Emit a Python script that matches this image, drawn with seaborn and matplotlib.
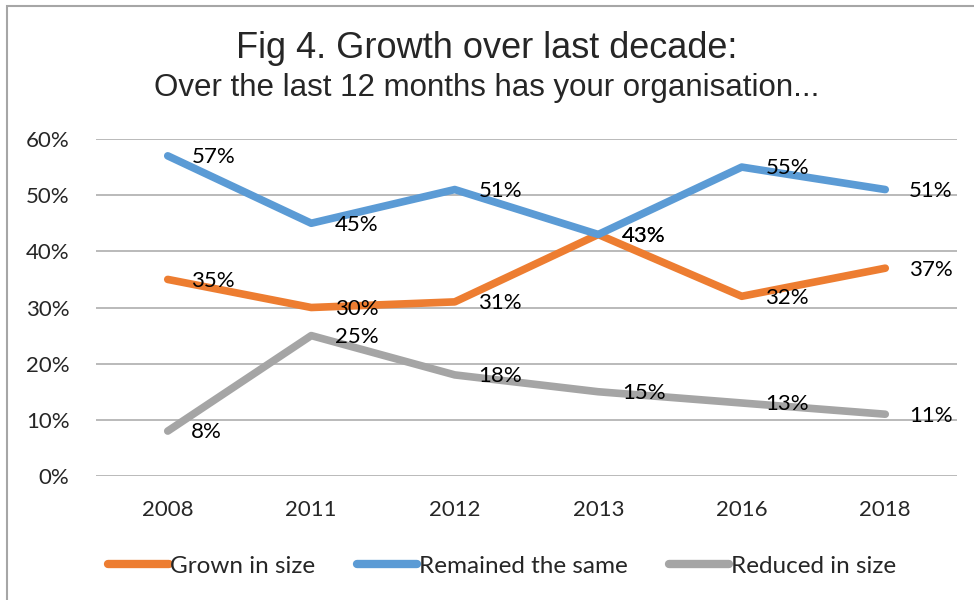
import pandas as pd
import matplotlib
matplotlib.use("Agg")
import matplotlib.pyplot as plt
import seaborn as sns
from matplotlib.patches import Rectangle

# --- chart data ---
years = ["2008", "2011", "2012", "2013", "2016", "2018"]
grown = [35, 30, 31, 43, 32, 37]
remained = [57, 45, 51, 43, 55, 51]
reduced = [8, 25, 18, 15, 13, 11]
series_names = ["Grown in size", "Remained the same", "Reduced in size"]
colors = ["#ED7D31", "#5B9BD5", "#A5A5A5"]

rows = []
for name, vals in zip(series_names, [grown, remained, reduced]):
    for yr, v in zip(years, vals):
        rows.append({"year": yr, "series": name, "value": v / 100})
df = pd.DataFrame(rows)

sns.set_theme(style="white")
plt.rcParams['font.family'] = ['Lato', 'DejaVu Sans']

fig = plt.figure(figsize=(9.74, 6), dpi=100)
ax = fig.add_axes([96 / 974, 1 - 476 / 600, (957 - 96) / 974, (476 - 139) / 600])

sns.lineplot(data=df, x="year", y="value", hue="series", hue_order=series_names,
             palette=colors, linewidth=5.5, sort=False, ax=ax,
             solid_capstyle="round")

# data labels to the right of each point
for name, vals in zip(series_names, [grown, remained, reduced]):
    for i, v in enumerate(vals):
        ax.annotate(f"{v}%", (i, v / 100), xytext=(17, -1), textcoords="offset points",
                    ha="left", va="center", fontsize=16, color="#000000")

ax.set_ylim(0, 0.6)
ax.set_xlim(-0.5, len(years) - 0.5)
ax.set_yticks([0, 0.1, 0.2, 0.3, 0.4, 0.5, 0.6])
ax.set_yticklabels([f"{t}%" for t in range(0, 70, 10)])
ax.yaxis.grid(True, color="#B4B4B4", linewidth=1.3)
ax.xaxis.grid(False)
for s in ax.spines.values():
    s.set_visible(False)
ax.tick_params(axis="y", length=0, pad=19, labelsize=16)
ax.tick_params(axis="x", length=0, pad=17, labelsize=16)
ax.set_xlabel("")
ax.set_ylabel("")

leg = ax.legend(loc="center", bbox_to_anchor=(0.5 + 15 / 974, 1 - 566 / 600),
                bbox_transform=fig.transFigure,
                ncol=3, frameon=False, fontsize=17.5, handlelength=2.5, handletextpad=0.05,
                columnspacing=1.7)
for line in leg.get_lines():
    line.set_linewidth(6)
    line.set_solid_capstyle("round")

fig.text(0.5, 1 - 48 / 600, "Fig 4. Growth over last decade:", ha="center", va="center",
         fontsize=26, family="Liberation Sans")
fig.text(0.5, 1 - 88 / 600, "Over the last 12 months has your organisation...", ha="center",
         va="center", fontsize=22.5, family="Liberation Sans")

# outer chart border
fig.patches.append(Rectangle((7 / 974, -0.1), 1.2, 1.1 - 6 / 600, transform=fig.transFigure,
                             fill=False, edgecolor="#A6A6A6", linewidth=1.5))

fig.savefig("out.png", dpi=100)
